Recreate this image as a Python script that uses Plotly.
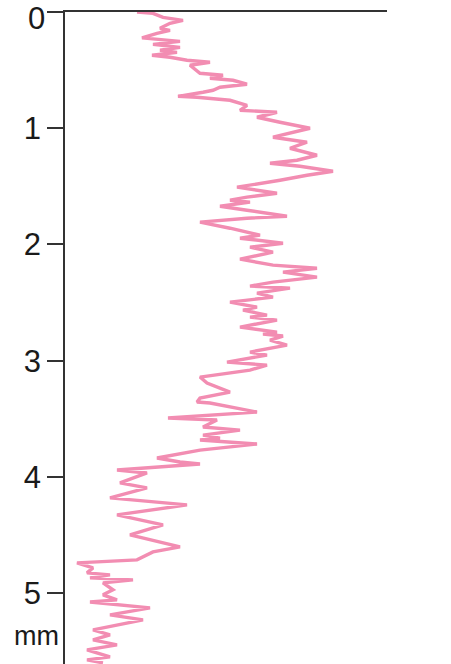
import plotly.graph_objects as go

# Depth below surface (mm) and signal (arbitrary units)
depth_mm = [
    0.000, 0.011, 0.046, 0.071, 0.097, 0.140, 0.157, 0.183, 0.222, 0.230,
    0.252, 0.278, 0.304, 0.329, 0.347, 0.372, 0.389, 0.415, 0.432, 0.458,
    0.501, 0.527, 0.544, 0.570, 0.587, 0.621, 0.647, 0.673, 0.690, 0.725,
    0.733, 0.759, 0.802, 0.845, 0.862, 0.905, 0.948, 1.000, 1.077, 1.120,
    1.172, 1.232, 1.275, 1.301, 1.327, 1.370, 1.404, 1.447, 1.507, 1.533,
    1.559, 1.593, 1.619, 1.636, 1.671, 1.705, 1.757, 1.774, 1.808, 1.860,
    1.920, 1.946, 1.989, 2.023, 2.066, 2.126, 2.178, 2.204, 2.238, 2.281,
    2.324, 2.358, 2.376, 2.418, 2.453, 2.496, 2.539, 2.565, 2.608, 2.625,
    2.651, 2.711, 2.754, 2.771, 2.788, 2.823, 2.866, 2.926, 2.952, 3.012,
    3.038, 3.081, 3.141, 3.193, 3.270, 3.322, 3.356, 3.364, 3.442, 3.493,
    3.511, 3.571, 3.597, 3.640, 3.666, 3.683, 3.717, 3.769, 3.837, 3.872,
    3.889, 3.941, 3.966, 4.052, 4.095, 4.181, 4.224, 4.241, 4.327, 4.413,
    4.499, 4.602, 4.645, 4.714, 4.740, 4.783, 4.826, 4.843, 4.869, 4.886,
    4.912, 4.972, 5.015, 5.058, 5.076, 5.127, 5.187, 5.230, 5.316, 5.359,
    5.403, 5.446, 5.489, 5.549, 5.575, 5.600,
]
signal = [
    72, 88, 98, 118, 105, 95, 105, 92, 77, 88,
    115, 88, 115, 95, 112, 87, 105, 122, 145, 125,
    132, 135, 158, 145, 168, 182, 155, 148, 138, 113,
    132, 165, 182, 175, 212, 192, 215, 245, 208, 242,
    225, 252, 232, 205, 235, 268, 242, 215, 172, 195,
    212, 182, 165, 185, 155, 182, 222, 182, 135, 165,
    195, 175, 218, 185, 208, 175, 208, 252, 218, 252,
    208, 185, 225, 192, 208, 165, 192, 178, 202, 185,
    212, 175, 212, 198, 218, 205, 222, 185, 202, 162,
    202, 185, 135, 142, 165, 135, 132, 145, 192, 103,
    152, 138, 175, 138, 155, 135, 192, 135, 92, 115,
    135, 52, 82, 55, 82, 45, 98, 122, 52, 98,
    65, 115, 88, 72, 12, 28, 22, 45, 25, 68,
    38, 48, 38, 52, 25, 85, 45, 78, 28, 45,
    28, 52, 22, 45, 22, 38,
]
tick_vals = [0, 1, 2, 3, 4, 5]
tick_text = ["0", "1", "2", "3", "4", "5"]
unit_label = "mm"

fig = go.Figure()
fig.add_trace(go.Scatter(
    x=signal, y=depth_mm, mode="lines",
    line=dict(color="#F28DB2", width=3.4),
    hoverinfo="skip", showlegend=False,
))

# the top label ("0") is drawn as an annotation so it stays inside the page
axis_text = ["" if v == 0 else t for v, t in zip(tick_vals, tick_text)]

fig.update_layout(
    width=451, height=664,
    margin=dict(l=65, r=64, t=12, b=0, autoexpand=False),
    paper_bgcolor="white", plot_bgcolor="white",
    font=dict(family="Liberation Sans, Arial, sans-serif", color="#1a1a1a", size=28),
    xaxis=dict(
        side="top", range=[0, 322], showticklabels=False, ticks="",
        showline=True, linecolor="#333333", linewidth=1.5,
        showgrid=False, zeroline=False, automargin=False,
    ),
    yaxis=dict(
        range=[5.61, -0.0005], tickvals=tick_vals, ticktext=axis_text,
        ticks="outside", ticklen=16, tickwidth=1.5, tickcolor="#333333",
        showline=True, linecolor="#333333", linewidth=1.5,
        showgrid=False, zeroline=False, automargin=False,
        tickfont=dict(size=31), ticklabeloverflow="allow",
    ),
    annotations=[
        dict(
            text=tick_text[0], xref="paper", yref="paper", x=0, y=1,
            xanchor="right", yanchor="top", showarrow=False,
            xshift=-19, yshift=12, borderpad=0, font=dict(size=31),
        ),
        dict(
            text=unit_label, xref="paper", yref="y", x=0, y=5.37,
            xanchor="right", yanchor="middle", showarrow=False,
            xshift=-4, font=dict(size=27),
        ),
    ],
)

fig.write_html(
    "out.html",
    config={"displayModeBar": False},
    post_script="document.body.style.margin='0';document.body.style.padding='0';",
)
